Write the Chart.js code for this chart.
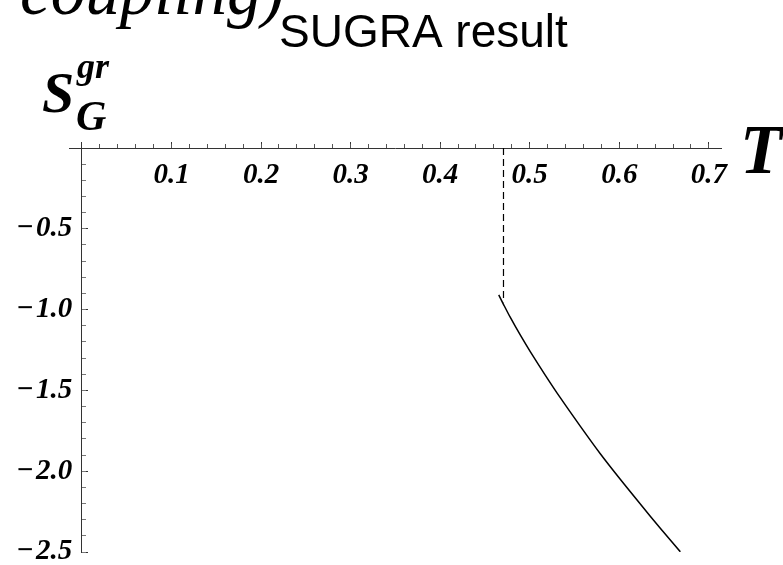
<!DOCTYPE html>
<html>
<head>
<meta charset="utf-8">
<script src="https://cdn.jsdelivr.net/npm/chart.js@4.4.1/dist/chart.umd.min.js"></script>
<style>
  html, body { margin: 0; padding: 0; background: #ffffff; }
  #wrap { width: 783px; height: 565px; position: relative; }
</style>
</head>
<body>
<div id="wrap"><canvas id="chart"></canvas></div>
<script>
// ---- data ----
const curveT = [0.4654, 0.4704, 0.4782, 0.4894, 0.5006, 0.5173, 0.5341, 0.5564, 0.5788, 0.6011, 0.6235, 0.6458, 0.6682];
const curveS = [-0.909, -0.964, -1.047, -1.157, -1.260, -1.405, -1.545, -1.721, -1.892, -2.050, -2.203, -2.353, -2.499];
const criticalT = [0.4707, 0.4707];
const criticalS = [0.0, -0.955];

const xMajorStep = 0.1;
const xMinorStep = 0.02;
const yMajorStep = 0.5;
const yMinorStep = 0.1;
const xRange = [-0.0145, 0.7136];
const yRange = [-2.5, 0.031];

const titleCut = 'coupling)';
const titleMain = 'SUGRA result';
const xAxisTitle = 'T';
const yAxisTitleMain = 'S';
const yAxisTitleSub = 'G';
const yAxisTitleSup = 'gr';

// ---- build chart ----
const curvePoints = curveT.map((t, i) => ({ x: t, y: curveS[i] }));
const criticalPoints = criticalT.map((t, i) => ({ x: t, y: criticalS[i] }));

const serifBI = (size, lh) => ({ family: '"Liberation Serif", "Times New Roman", serif', size: size, style: 'italic', weight: 'bold', lineHeight: lh });

function fmtY(v) {
  if (Math.abs(v) < 1e-9) return '';
  return (v < 0 ? '\u2212\u200a' : '') + Math.abs(v).toFixed(1) + ' \u200a';
}
function fmtX(v) {
  if (Math.abs(v) < 1e-9) return '';
  return v.toFixed(1);
}

const textPlugin = {
  id: 'annotText',
  afterDraw(chart) {
    const ctx = chart.ctx;
    ctx.save();
    ctx.fillStyle = '#000';
    ctx.textBaseline = 'alphabetic';
    ctx.textAlign = 'left';
    ctx.font = 'italic 69px "Liberation Serif"';
    ctx.fillText(titleCut, 20, 14);
    ctx.font = '46px "Liberation Sans"';
    ctx.fillText(titleMain, 279, 47);
    ctx.font = 'bold italic 58px "Liberation Serif"';
    ctx.fillText(yAxisTitleMain, 42, 112);
    ctx.font = 'bold italic 36px "Liberation Serif"';
    ctx.fillText(yAxisTitleSup, 77, 78);
    ctx.font = 'bold italic 42px "Liberation Serif"';
    ctx.fillText(yAxisTitleSub, 76, 130);
    ctx.font = 'bold italic 69px "Liberation Serif"';
    ctx.fillText(xAxisTitle, 740, 173);
    ctx.restore();
  }
};

const zeroSize = (s) => { if (s.isHorizontal()) s.height = 0; else s.width = 0; };

new Chart(document.getElementById('chart'), {
  type: 'scatter',
  data: {
    datasets: [
      {
        label: 'SUGRA',
        data: curvePoints,
        showLine: true,
        borderColor: '#000',
        borderWidth: 1.5,
        pointRadius: 0,
        tension: 0.3,
        fill: false
      },
      {
        label: 'critical',
        data: criticalPoints,
        showLine: true,
        borderColor: '#000',
        borderWidth: 1.2,
        borderDash: [7, 4],
        pointRadius: 0,
        fill: false
      }
    ]
  },
  options: {
    responsive: true,
    maintainAspectRatio: false,
    animation: false,
    events: [],
    layout: { padding: { left: 69, right: 62, top: 143, bottom: 13 } },
    plugins: { legend: { display: false }, tooltip: { enabled: false }, title: { display: false } },
    scales: {
      x: {
        type: 'linear',
        min: xRange[0], max: xRange[1],
        position: { y: 0 },
        afterFit: zeroSize,
        border: { display: true, color: '#333', width: 1 },
        grid: { drawOnChartArea: false, drawTicks: true, tickLength: -7, color: '#333', tickWidth: 1 },
        ticks: { stepSize: xMajorStep, includeBounds: false, autoSkip: false, maxRotation: 0, padding: 17, color: '#000', font: serifBI(29, 1.2), callback: fmtX }
      },
      xMinor: {
        type: 'linear',
        axis: 'x',
        min: xRange[0], max: xRange[1],
        position: { y: 0 },
        afterFit: zeroSize,
        border: { display: false },
        grid: { drawOnChartArea: false, drawTicks: true, tickLength: -4, color: '#555', tickWidth: 1 },
        ticks: { stepSize: xMinorStep, includeBounds: false, autoSkip: false, display: false }
      },
      y: {
        type: 'linear',
        min: yRange[0], max: yRange[1],
        position: { x: 0 },
        afterFit: zeroSize,
        border: { display: true, color: '#333', width: 1 },
        grid: { drawOnChartArea: false, drawTicks: true, tickLength: -7, color: '#333', tickWidth: 1 },
        ticks: { stepSize: yMajorStep, includeBounds: false, autoSkip: false, padding: 0, color: '#000', font: serifBI(29, 0.7), callback: fmtY }
      },
      yMinor: {
        type: 'linear',
        axis: 'y',
        min: yRange[0], max: yRange[1],
        position: { x: 0 },
        afterFit: zeroSize,
        border: { display: false },
        grid: { drawOnChartArea: false, drawTicks: true, tickLength: -4, color: '#777', tickWidth: 1 },
        ticks: { stepSize: yMinorStep, includeBounds: false, autoSkip: false, display: false }
      }
    }
  },
  plugins: [textPlugin]
});
</script>
</body>
</html>
